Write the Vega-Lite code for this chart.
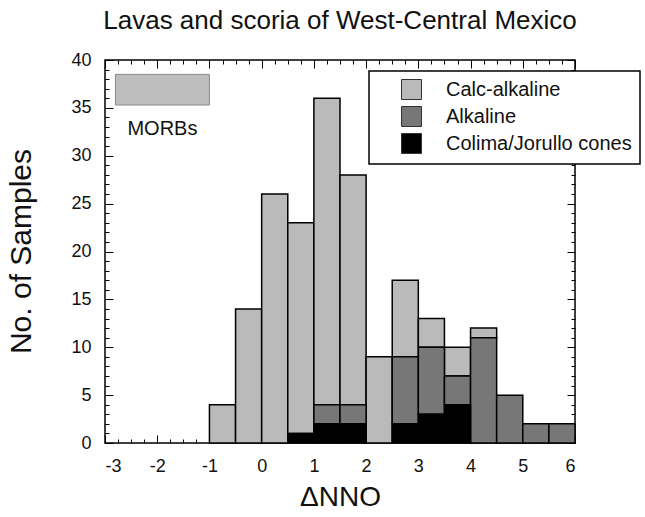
{
  "$schema": "https://vega.github.io/schema/vega-lite/v6.json",
  "width": 470,
  "height": 383,
  "autosize": {"type": "none"},
  "padding": {"left": 105, "top": 60, "right": 70, "bottom": 74},
  "background": "white",
  "title": {
    "text": "Lavas and scoria of West-Central Mexico",
    "font": "Liberation Sans",
    "fontSize": 26,
    "fontWeight": "normal",
    "color": "#111",
    "anchor": "middle",
    "baseline": "alphabetic",
    "offset": -4
  },
  "config": {
    "view": {"stroke": "black", "strokeWidth": 1.5},
    "axis": {
      "domain": false,
      "grid": false,
      "tickColor": "black",
      "tickWidth": 1,
      "labelFont": "Liberation Sans",
      "labelFontSize": 18,
      "labelColor": "#111",
      "titleFont": "Liberation Sans",
      "titleFontWeight": "normal",
      "titleColor": "#111"
    }
  },
  "datasets": {
    "bins": [
      {"lo": -1, "hi": -0.5, "type": "Calc-alkaline", "n": 4},
      {"lo": -0.5, "hi": 0, "type": "Calc-alkaline", "n": 14},
      {"lo": 0, "hi": 0.5, "type": "Calc-alkaline", "n": 26},
      {"lo": 0.5, "hi": 1, "type": "Calc-alkaline", "n": 22},
      {"lo": 1, "hi": 1.5, "type": "Calc-alkaline", "n": 32},
      {"lo": 1.5, "hi": 2, "type": "Calc-alkaline", "n": 24},
      {"lo": 2, "hi": 2.5, "type": "Calc-alkaline", "n": 9},
      {"lo": 2.5, "hi": 3, "type": "Calc-alkaline", "n": 8},
      {"lo": 3, "hi": 3.5, "type": "Calc-alkaline", "n": 3},
      {"lo": 3.5, "hi": 4, "type": "Calc-alkaline", "n": 3},
      {"lo": 4, "hi": 4.5, "type": "Calc-alkaline", "n": 1},
      {"lo": 1, "hi": 1.5, "type": "Alkaline", "n": 2},
      {"lo": 1.5, "hi": 2, "type": "Alkaline", "n": 2},
      {"lo": 2.5, "hi": 3, "type": "Alkaline", "n": 7},
      {"lo": 3, "hi": 3.5, "type": "Alkaline", "n": 7},
      {"lo": 3.5, "hi": 4, "type": "Alkaline", "n": 3},
      {"lo": 4, "hi": 4.5, "type": "Alkaline", "n": 11},
      {"lo": 4.5, "hi": 5, "type": "Alkaline", "n": 5},
      {"lo": 5, "hi": 5.5, "type": "Alkaline", "n": 2},
      {"lo": 5.5, "hi": 6, "type": "Alkaline", "n": 2},
      {"lo": 0.5, "hi": 1, "type": "Colima/Jorullo cones", "n": 1},
      {"lo": 1, "hi": 1.5, "type": "Colima/Jorullo cones", "n": 2},
      {"lo": 1.5, "hi": 2, "type": "Colima/Jorullo cones", "n": 2},
      {"lo": 2.5, "hi": 3, "type": "Colima/Jorullo cones", "n": 2},
      {"lo": 3, "hi": 3.5, "type": "Colima/Jorullo cones", "n": 3},
      {"lo": 3.5, "hi": 4, "type": "Colima/Jorullo cones", "n": 4}
    ],
    "morb": [
      {"lo": -2.8, "hi": -1.0, "bottom": 35.3, "top": 38.5, "lx": -1.9, "ly": 32.8, "label": "MORBs"}
    ]
  },
  "layer": [
    {
      "data": {"name": "bins"},
      "transform": [
        {"calculate": "datum.type === 'Colima/Jorullo cones' ? 0 : (datum.type === 'Alkaline' ? 1 : 2)", "as": "stackOrder"},
        {"stack": "n", "groupby": ["lo"], "sort": [{"field": "stackOrder", "order": "ascending"}], "as": ["y0", "y1"]}
      ],
      "mark": {"type": "rect", "stroke": "black", "strokeWidth": 1.5},
      "encoding": {
        "x": {
          "field": "lo", "type": "quantitative",
          "scale": {"domain": [-3, 6], "nice": false, "zero": false},
          "axis": {
            "orient": "bottom", "values": [-3, -2, -1, 0, 1, 2, 3, 4, 5, 6],
            "labelExpr": "datum.value < 0 ? '-' + abs(datum.value) : '' + datum.value",
            "tickSize": -8, "labelPadding": 22,
            "title": "ΔNNO", "titleFontSize": 28,
            "titleX": 235, "titleY": 54, "titleAlign": "center", "titleBaseline": "middle"
          }
        },
        "x2": {"field": "hi"},
        "y": {
          "field": "y0", "type": "quantitative",
          "scale": {"domain": [0, 40], "nice": false},
          "axis": {
            "orient": "left", "values": [0, 5, 10, 15, 20, 25, 30, 35, 40],
            "tickSize": -8, "labelPadding": 22,
            "title": "No. of Samples", "titleFontSize": 30,
            "titleX": -84, "titleY": 191, "titleAngle": -90, "titleAlign": "center", "titleBaseline": "middle"
          }
        },
        "y2": {"field": "y1"},
        "fill": {
          "field": "type", "type": "nominal",
          "scale": {"domain": ["Calc-alkaline", "Alkaline", "Colima/Jorullo cones"], "range": ["#bababa", "#777777", "#000000"]},
          "legend": {
            "title": null, "orient": "none", "legendX": 264, "legendY": 11,
            "direction": "vertical",
            "fillColor": "white", "strokeColor": "black",
            "padding": 8, "symbolType": "square", "symbolSize": 400,
            "symbolStrokeColor": "#333", "symbolStrokeWidth": 1,
            "symbolOffset": 24, "labelOffset": 24, "rowPadding": 2,
            "labelFont": "Liberation Sans", "labelFontSize": 20, "labelColor": "#111", "labelLimit": 400,
            "encode": {"legend": {"update": {"strokeWidth": {"value": 1.5}}}}
          }
        }
      }
    },
    {
      "data": {"name": "morb"},
      "mark": {"type": "rect", "fill": "#bdbdbd", "stroke": "#8a8a8a", "strokeWidth": 1},
      "encoding": {
        "x": {
          "field": "lo", "type": "quantitative",
          "scale": {"domain": [-3, 6], "nice": false, "zero": false},
          "axis": {"orient": "bottom", "values": [-3,-2.75,-2.5,-2.25,-2,-1.75,-1.5,-1.25,-1,-0.75,-0.5,-0.25,0,0.25,0.5,0.75,1,1.25,1.5,1.75,2,2.25,2.5,2.75,3,3.25,3.5,3.75,4,4.25,4.5,4.75,5,5.25,5.5,5.75,6], "tickSize": -4, "labels": false, "title": null}
        },
        "x2": {"field": "hi"},
        "y": {
          "field": "bottom", "type": "quantitative",
          "scale": {"domain": [0, 40], "nice": false},
          "axis": {"orient": "left", "values": [0,1,2,3,4,5,6,7,8,9,10,11,12,13,14,15,16,17,18,19,20,21,22,23,24,25,26,27,28,29,30,31,32,33,34,35,36,37,38,39,40], "tickSize": -4, "labels": false, "title": null}
        },
        "y2": {"field": "top"}
      }
    },
    {
      "data": {"name": "morb"},
      "mark": {"type": "text", "font": "Liberation Sans", "fontSize": 20, "color": "#111", "align": "center", "baseline": "middle"},
      "encoding": {
        "x": {
          "field": "lx", "type": "quantitative",
          "scale": {"domain": [-3, 6], "nice": false, "zero": false},
          "axis": {"orient": "top", "values": [-3, -2, -1, 0, 1, 2, 3, 4, 5, 6], "tickSize": -8, "labels": false, "title": null}
        },
        "y": {
          "field": "ly", "type": "quantitative",
          "scale": {"domain": [0, 40], "nice": false},
          "axis": {"orient": "right", "values": [0, 5, 10, 15, 20, 25, 30, 35, 40], "tickSize": -8, "labels": false, "title": null}
        },
        "text": {"field": "label"}
      }
    },
    {
      "data": {"name": "morb"},
      "mark": {"type": "rect", "opacity": 0},
      "encoding": {
        "x": {
          "field": "lo", "type": "quantitative",
          "scale": {"domain": [-3, 6], "nice": false, "zero": false},
          "axis": {"orient": "top", "values": [-3,-2.75,-2.5,-2.25,-2,-1.75,-1.5,-1.25,-1,-0.75,-0.5,-0.25,0,0.25,0.5,0.75,1,1.25,1.5,1.75,2,2.25,2.5,2.75,3,3.25,3.5,3.75,4,4.25,4.5,4.75,5,5.25,5.5,5.75,6], "tickSize": -4, "labels": false, "title": null}
        },
        "x2": {"field": "hi"},
        "y": {
          "field": "bottom", "type": "quantitative",
          "scale": {"domain": [0, 40], "nice": false},
          "axis": {"orient": "right", "values": [0,1,2,3,4,5,6,7,8,9,10,11,12,13,14,15,16,17,18,19,20,21,22,23,24,25,26,27,28,29,30,31,32,33,34,35,36,37,38,39,40], "tickSize": -4, "labels": false, "title": null}
        },
        "y2": {"field": "top"}
      }
    }
  ],
  "resolve": {"axis": {"x": "independent", "y": "independent"}}
}
